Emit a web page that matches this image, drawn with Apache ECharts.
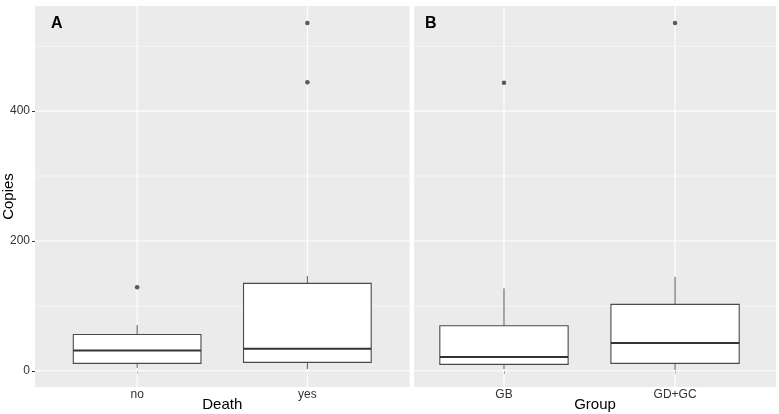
<!DOCTYPE html>
<html><head><meta charset="utf-8">
<script src="https://cdn.jsdelivr.net/npm/echarts@6/dist/echarts.min.js"></script>
<style>html,body{margin:0;padding:0;background:#fff}#c{width:779px;height:414px}</style>
</head><body><div id="c"></div>
<script>
// ---- data ----
const deathCategories = ['no', 'yes'];
// [lower whisker, Q1, median, Q3, upper whisker]
const deathStats = [[4.6, 11.4, 31.4, 56.0, 70.4], [2.6, 12.9, 33.9, 134.6, 145.9]];
const deathOutliers = [['no', 128.5], ['yes', 444.4], ['yes', 535.7]];
const groupCategories = ['GB', 'GD+GC'];
const groupStats = [[2.6, 9.9, 21.1, 69.3, 127.0], [1.1, 11.4, 42.7, 102.3, 144.8]];
const groupOutliers = [['GB', 443.8], ['GD+GC', 535.7]];
const yTicks = [0, 200, 400];
const yMinorGrid = [100, 300, 500];

const FONT = 'Liberation Sans, Arial, sans-serif';
const chart = echarts.init(document.getElementById('c'));

function boxData(cats, stats) { return stats.map((s, i) => [i + 1].concat(s)); }
function outData(cats, outs) { return outs.map(o => [cats.indexOf(o[0]) + 1, o[1]]); }
function hGridData() { return yTicks.map(v => [v, 1.1]).concat(yMinorGrid.map(v => [v, 0.55])); }
function vGridData(cats) { return cats.map((c, i) => [i + 1]); }

function renderBox(params, api) {
  const x = api.value(0);
  const lo = api.coord([x, api.value(1)]);
  const q1 = api.coord([x, api.value(2)]);
  const md = api.coord([x, api.value(3)]);
  const q3 = api.coord([x, api.value(4)]);
  const hi = api.coord([x, api.value(5)]);
  const half = api.size([0.75, 0])[0] / 2;
  const cx = lo[0];
  const ln = {stroke: '#555555', lineWidth: 1};
  return {type: 'group', children: [
    {type: 'line', shape: {x1: cx, y1: hi[1], x2: cx, y2: q3[1]}, style: ln},
    {type: 'line', shape: {x1: cx, y1: q1[1], x2: cx, y2: lo[1]}, style: ln},
    {type: 'rect', shape: {x: cx - half, y: q3[1], width: 2 * half, height: q1[1] - q3[1]},
      style: {fill: '#ffffff', stroke: '#4a4a4a', lineWidth: 1.1}},
    {type: 'line', shape: {x1: cx - half, y1: md[1], x2: cx + half, y2: md[1]},
      style: {stroke: '#333333', lineWidth: 2}}
  ]};
}
function renderH(params, api) {
  const cs = params.coordSys;
  const y = api.coord([1, api.value(0)])[1];
  return {type: 'line', shape: {x1: cs.x, y1: y, x2: cs.x + cs.width, y2: y},
    style: {stroke: '#ffffff', lineWidth: api.value(1)}};
}
function renderV(params, api) {
  const cs = params.coordSys;
  const x = api.coord([api.value(0), 0])[0];
  return {type: 'line', shape: {x1: x, y1: cs.y, x2: x, y2: cs.y + cs.height},
    style: {stroke: '#ffffff', lineWidth: 1.1}};
}

function xAxis(idx, cats, min, max, name) {
  return {
    type: 'value', gridIndex: idx, min: min, max: max,
    axisLine: {show: false}, splitLine: {show: false},
    axisTick: {show: true, length: 3, lineStyle: {color: '#333'}, customValues: cats.map((c, i) => i + 1)},
    axisLabel: {customValues: cats.map((c, i) => i + 1), formatter: v => cats[Math.round(v) - 1],
      color: '#333', fontSize: 12, fontFamily: FONT, margin: 2},
    name: name, nameLocation: 'middle', nameGap: 10, nameMoveOverlap: false,
    nameTextStyle: {color: '#000', fontSize: 15, fontFamily: FONT, verticalAlign: 'top'}
  };
}
function yAxis(idx, show) {
  return {
    type: 'value', gridIndex: idx, min: -25, max: 562, show: show,
    axisLine: {show: false}, splitLine: {show: false},
    axisTick: {show: true, length: 3, lineStyle: {color: '#333'}, customValues: yTicks},
    axisLabel: {customValues: yTicks, color: '#333', fontSize: 12, fontFamily: FONT, margin: 5},
    name: show ? 'Copies' : '', nameLocation: 'middle', nameGap: 19, nameMoveOverlap: false,
    nameTextStyle: {color: '#000', fontSize: 15, fontFamily: FONT}
  };
}

function panelSeries(idx, cats, stats, outs) {
  return [
    {type: 'custom', xAxisIndex: idx, yAxisIndex: idx, data: hGridData(), renderItem: renderH, z: 1, silent: true},
    {type: 'custom', xAxisIndex: idx, yAxisIndex: idx, data: vGridData(cats), renderItem: renderV, z: 1, silent: true},
    {type: 'custom', xAxisIndex: idx, yAxisIndex: idx, data: boxData(cats, stats), renderItem: renderBox, z: 2,
      encode: {x: 0, y: [1, 2, 3, 4, 5]}},
    {type: 'scatter', xAxisIndex: idx, yAxisIndex: idx, data: outData(cats, outs), symbolSize: 4.5,
      itemStyle: {color: '#333333'}, z: 3}
  ];
}

chart.setOption({
  backgroundColor: '#ffffff',
  animation: false,
  grid: [
    {left: 35, top: 6, right: 369.5, bottom: 27, show: true, backgroundColor: '#EBEBEB', borderWidth: 0,
      containLabel: false, outerBoundsMode: 'none'},
    {left: 414, top: 6, right: 3, bottom: 27, show: true, backgroundColor: '#EBEBEB', borderWidth: 0,
      containLabel: false, outerBoundsMode: 'none'}
  ],
  xAxis: [xAxis(0, deathCategories, 0.4, 2.6, 'Death'), xAxis(1, groupCategories, 0.474, 2.59, 'Group')],
  yAxis: [yAxis(0, true), yAxis(1, false)],
  graphic: [
    {type: 'text', left: 51, top: 16, style: {text: 'A', font: 'bold 16px ' + FONT, fill: '#000'}},
    {type: 'text', left: 425, top: 16, style: {text: 'B', font: 'bold 16px ' + FONT, fill: '#000'}}
  ],
  series: panelSeries(0, deathCategories, deathStats, deathOutliers)
    .concat(panelSeries(1, groupCategories, groupStats, groupOutliers))
});
</script></body></html>
